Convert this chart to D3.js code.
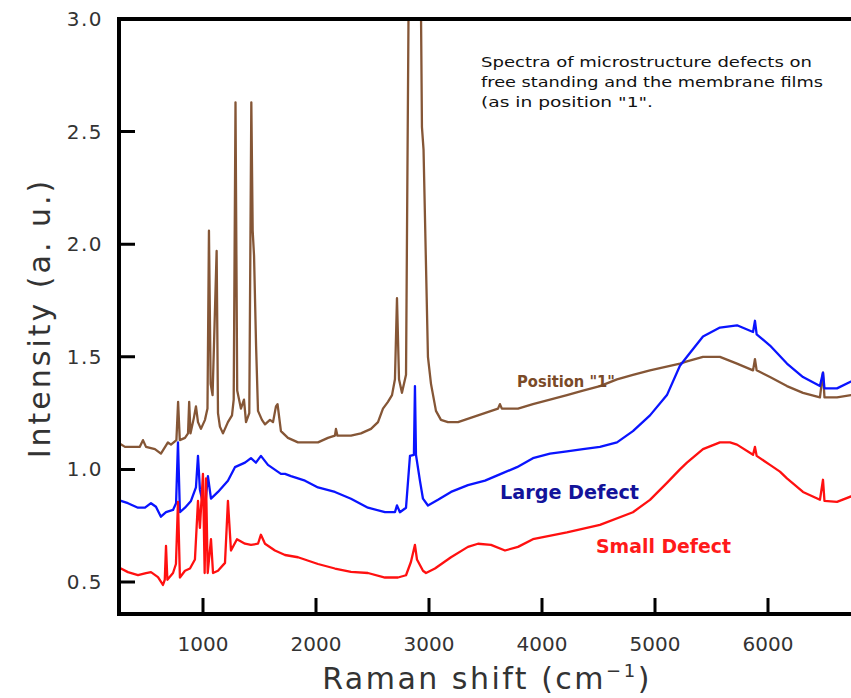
<!DOCTYPE html>
<html>
<head>
<meta charset="utf-8">
<script src="https://cdn.jsdelivr.net/npm/d3@7"></script>
<style>
  html, body { margin: 0; padding: 0; background: #fff; }
  svg { display: block; }
</style>
</head>
<body>
<script>
// ---- Data (Raman shift in cm^-1, intensity in a.u.) ----
const xTicks = [1000, 2000, 3000, 4000, 5000, 6000];
const yTicks = [0.5, 1.0, 1.5, 2.0, 2.5, 3.0];

const position1 = [
  [248,1.12],[310,1.10],[381,1.10],[440,1.10],[469,1.13],[496,1.10],[575,1.09],[628,1.07],
  [690,1.12],[717,1.11],[765,1.13],[780,1.30],[795,1.13],[841,1.14],[868,1.16],[878,1.30],
  [890,1.16],[920,1.23],[938,1.28],[956,1.21],[982,1.18],[1018,1.22],[1040,1.27],[1053,2.06],
  [1068,1.38],[1085,1.33],[1121,1.97],[1133,1.25],[1150,1.19],[1177,1.16],[1221,1.21],
  [1257,1.24],[1272,1.31],[1288,2.63],[1303,1.35],[1336,1.27],[1363,1.31],[1381,1.21],
  [1410,1.25],[1428,2.63],[1440,2.06],[1452,1.95],[1470,1.55],[1487,1.26],[1522,1.22],
  [1549,1.20],[1593,1.22],[1620,1.21],[1646,1.28],[1660,1.29],[1690,1.17],[1752,1.14],
  [1841,1.12],[2018,1.12],[2106,1.14],[2168,1.15],[2177,1.18],[2190,1.15],[2310,1.15],
  [2398,1.16],[2487,1.18],[2549,1.21],[2593,1.27],[2637,1.30],[2673,1.33],[2699,1.40],
  [2717,1.76],[2735,1.40],[2761,1.34],[2797,1.42],[2823,3.30],[2925,3.30],[2938,2.52],
  [2952,2.42],[2991,1.50],[3018,1.38],[3062,1.26],[3106,1.22],[3168,1.21],[3257,1.21],
  [3434,1.24],[3611,1.27],[3628,1.29],[3645,1.27],[3788,1.27],[3920,1.29],[4071,1.31],
  [4221,1.33],[4363,1.35],[4513,1.37],[4664,1.40],[4805,1.42],[4956,1.44],[5044,1.45],
  [5133,1.46],[5221,1.47],[5283,1.48],[5425,1.50],[5575,1.50],[5726,1.47],[5868,1.44],
  [5885,1.49],[5900,1.44],[6018,1.41],[6168,1.37],[6310,1.34],[6460,1.32],[6487,1.43],
  [6500,1.32],[6611,1.32],[6735,1.33]
];

const largeDefect = [
  [248,0.865],[336,0.85],[425,0.83],[487,0.83],[540,0.85],[584,0.834],[628,0.79],[673,0.81],
  [735,0.82],[762,0.85],[779,1.12],[796,0.81],[841,0.83],[894,0.86],[938,0.92],[956,1.06],
  [973,0.91],[1000,0.85],[1018,0.83],[1044,0.97],[1071,0.87],[1133,0.90],[1221,0.95],
  [1283,1.01],[1372,1.03],[1425,1.05],[1469,1.03],[1513,1.06],[1575,1.02],[1690,0.98],
  [1726,0.98],[1779,0.97],[1903,0.95],[2018,0.92],[2168,0.90],[2310,0.87],[2460,0.83],
  [2611,0.81],[2699,0.81],[2717,0.84],[2743,0.81],[2797,0.83],[2832,1.06],[2867,1.065],
  [2876,1.37],[2885,1.065],[2920,0.95],[2947,0.87],[2991,0.84],[3080,0.865],[3195,0.90],
  [3345,0.93],[3496,0.95],[3637,0.98],[3779,1.01],[3920,1.05],[4071,1.07],[4221,1.08],
  [4363,1.09],[4513,1.10],[4664,1.12],[4805,1.17],[4956,1.24],[5106,1.33],[5221,1.46],
  [5283,1.50],[5425,1.59],[5575,1.63],[5726,1.64],[5868,1.61],[5885,1.66],[5900,1.60],
  [6018,1.55],[6168,1.47],[6310,1.41],[6460,1.37],[6487,1.43],[6500,1.36],[6611,1.36],
  [6735,1.39]
];

const smallDefect = [
  [248,0.567],[336,0.544],[425,0.531],[496,0.54],[540,0.544],[602,0.522],[646,0.487],
  [662,0.51],[673,0.66],[685,0.51],[735,0.54],[761,0.58],[779,0.856],[796,0.52],[841,0.55],
  [885,0.56],[929,0.60],[956,0.86],[973,0.74],[1000,0.98],[1015,0.54],[1027,0.96],[1042,0.54],
  [1071,0.69],[1089,0.54],[1133,0.55],[1195,0.585],[1221,0.86],[1248,0.64],[1301,0.69],
  [1372,0.67],[1425,0.665],[1487,0.67],[1513,0.71],[1549,0.67],[1637,0.64],[1726,0.62],
  [1841,0.61],[2018,0.58],[2168,0.56],[2310,0.545],[2460,0.54],[2611,0.52],[2726,0.52],
  [2797,0.53],[2841,0.59],[2876,0.665],[2894,0.60],[2947,0.55],[2974,0.54],[3053,0.56],
  [3195,0.61],[3345,0.656],[3434,0.67],[3549,0.665],[3673,0.64],[3788,0.656],[3920,0.69],
  [4221,0.72],[4513,0.754],[4805,0.81],[4956,0.865],[5106,0.94],[5221,1.00],[5283,1.03],
  [5425,1.09],[5575,1.12],[5664,1.12],[5726,1.11],[5868,1.065],[5885,1.10],[5900,1.06],
  [6018,1.02],[6106,0.99],[6168,0.96],[6310,0.90],[6460,0.865],[6487,0.954],[6500,0.86],
  [6611,0.856],[6735,0.88]
];

const noteLines = [
  "Spectra of microstructure defects on",
  "free standing and the membrane films",
  "(as in position \"1\"."
];

// ---- Layout ----
const W = 851, H = 698;
const mLeft = 119, mTop = 19, mBottom = 614, mRight = 870;

const svg = d3.select("body").append("svg")
  .attr("width", W).attr("height", H);

const x = d3.scaleLinear().domain([257, 6903]).range([mLeft, mRight]);
const y = d3.scaleLinear().domain([0.358, 3.0]).range([mBottom, mTop]);

svg.append("defs").append("clipPath").attr("id", "plotclip")
  .append("rect").attr("x", mLeft).attr("y", mTop)
  .attr("width", mRight - mLeft).attr("height", mBottom - mTop);

const line = d3.line().x(d => x(d[0])).y(d => y(d[1]));

const g = svg.append("g").attr("clip-path", "url(#plotclip)");
const series = [
  { data: position1, color: "#855636" },
  { data: largeDefect, color: "#0a14ff" },
  { data: smallDefect, color: "#ff1010" }
];
series.forEach(s => {
  g.append("path").datum(s.data)
    .attr("d", line)
    .attr("fill", "none")
    .attr("stroke", s.color)
    .attr("stroke-width", 2.3)
    .attr("stroke-linejoin", "round")
    .attr("stroke-linecap", "round");
});

// ---- Tick labels ----
const tickFont = "'DejaVu Sans', sans-serif";
const labelG = svg.append("g")
  .style("font-family", tickFont).style("font-size", "20px").attr("fill", "#333");
labelG.selectAll("text.xl").data(xTicks).join("text")
  .attr("class", "xl")
  .attr("x", d => x(d)).attr("y", mBottom + 37)
  .attr("text-anchor", "middle")
  .text(d3.format("d"));
labelG.selectAll("text.yl").data(yTicks).join("text")
  .attr("class", "yl")
  .attr("x", mLeft - 16).attr("y", d => y(d) + 7)
  .attr("text-anchor", "end")
  .attr("letter-spacing", "1.5px")
  .text(d3.format(".1f"));

// ---- Frame (heavy) ----
svg.append("path")
  .attr("d", `M${mRight},${mTop} H${mLeft} V${mBottom} H${mRight}`)
  .attr("fill", "none").attr("stroke", "#000").attr("stroke-width", 4);

// ---- Inward ticks, built from the scales ----
const TL = 16;
let tickD = "";
xTicks.forEach(v => {
  const px = x(v).toFixed(1);
  tickD += `M${px},${mBottom - 1} L${px},${mBottom - TL} `;
});
yTicks.forEach(v => {
  const py = y(v).toFixed(1);
  tickD += `M${mLeft + 1},${py} L${mLeft + TL},${py} `;
});
svg.append("path")
  .attr("d", tickD)
  .attr("fill", "none").attr("stroke", "#000").attr("stroke-width", 3)
  .attr("stroke-linecap", "butt");

// ---- Axis titles ----
const xTitle = svg.append("text")
  .attr("x", 487).attr("y", 689)
  .attr("text-anchor", "middle")
  .attr("fill", "#333")
  .style("font-family", tickFont).style("font-size", "30px")
  .attr("letter-spacing", "2.5px");
xTitle.append("tspan").text("Raman shift (cm");
xTitle.append("tspan").attr("dy", -12).style("font-size", "18px").text("\u22121");
xTitle.append("tspan").attr("dy", 12).text(")");

svg.append("text")
  .attr("transform", "translate(50,318) rotate(-90)")
  .attr("text-anchor", "middle")
  .attr("fill", "#333")
  .style("font-family", tickFont).style("font-size", "30px")
  .attr("letter-spacing", "3px")
  .text("Intensity (a. u.)");

// ---- Annotation ----
const noteWidths = [331, 342, 172];
noteLines.forEach((t, i) => {
  svg.append("text")
    .attr("x", 481).attr("y", 67 + i * 20)
    .attr("fill", "#111")
    .style("font-family", "'DejaVu Sans', sans-serif").style("font-size", "13.5px")
    .attr("textLength", noteWidths[i]).attr("lengthAdjust", "spacingAndGlyphs")
    .text(t);
});

// ---- Series labels ----
const labels = [
  { text: "Position \"1\"", x: 517, y: 387, color: "#7a4a28", size: 16, w: 98 },
  { text: "Large Defect", x: 500, y: 499, color: "#13139a", size: 19, w: 139 },
  { text: "Small Defect", x: 596, y: 553, color: "#ff1a1a", size: 19, w: 135 }
];
labels.forEach(l => {
  svg.append("text")
    .attr("x", l.x).attr("y", l.y)
    .attr("fill", l.color)
    .style("font-family", "'DejaVu Sans', sans-serif")
    .style("font-weight", "bold").style("font-size", l.size + "px")
    .attr("textLength", l.w).attr("lengthAdjust", "spacingAndGlyphs")
    .text(l.text);
});
</script>
</body>
</html>
